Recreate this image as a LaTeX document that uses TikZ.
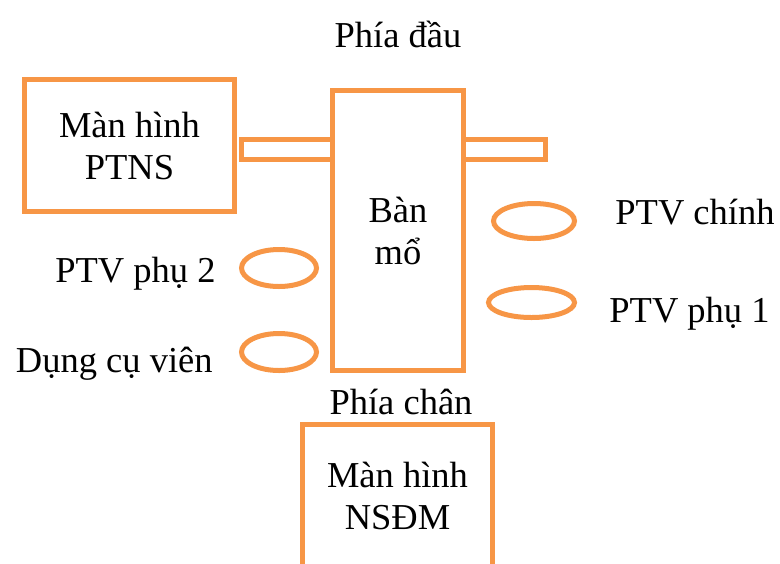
\documentclass[tikz,border=0pt]{standalone}
\usepackage{fontspec}
\setmainfont{Liberation Serif}
\usetikzlibrary{shapes.geometric,positioning}
\definecolor{planorange}{RGB}{247,150,70}
\newcommand{\planfont}{\fontsize{18.25}{21}\selectfont}
\tikzset{
  planbox/.style={rectangle,draw=planorange,line width=2.5pt,inner sep=0pt,
    align=center,font=\planfont},
  armbox/.style={rectangle,draw=planorange,line width=2.5pt,inner sep=0pt,
    minimum height=10pt},
  seat/.style={ellipse,draw=planorange,line width=2.5pt,inner sep=0pt},
  planlabel/.style={font=\planfont,inner sep=0pt}
}

\begin{document}
\begin{tikzpicture}[x=0.5pt,y=-0.5pt]
  \useasboundingbox (0,0) rectangle (780,563);
  % ban mo va hai tay doi
  \node[planbox,minimum width=65.5pt,minimum height=140pt] (table) at (398,230.5) {Bàn\\mổ};
  \node[armbox,minimum width=45.5pt] (leftarm) at (287,149.5) {};
  \node[armbox,minimum width=41pt] (rightarm) at (504.5,149.5) {};
  % man hinh
  \node[planbox,minimum width=105pt,minimum height=66pt] (ptns) at (129.5,145.5) {Màn hình\\PTNS};
  \node[planbox,minimum width=95pt,minimum height=71.5pt] (nsdm) at (397.5,496) {Màn hình\\NSĐM};
  % vi tri nguoi
  \node[seat,minimum width=40.5pt,minimum height=17.5pt] (chinh) at (534,221) {};
  \node[seat,minimum width=43pt,minimum height=15pt] (phu1) at (531.5,302.5) {};
  \node[seat,minimum width=37.5pt,minimum height=18.5pt] (phu2) at (279,268) {};
  \node[seat,minimum width=37.5pt,minimum height=18.5pt] (dungcu) at (279,352) {};
  % nhan
  \node[planlabel,anchor=base] (dau) at (398,47) {Phía đầu};
  \node[planlabel,anchor=base] (chan) at (401,414) {Phía chân};
  \node[planlabel,anchor=base west] (lchinh) at (615,224) {PTV chính};
  \node[planlabel,anchor=base west] (lphu1) at (609,322) {PTV phụ 1};
  \node[planlabel,anchor=base east] (lphu2) at (216,282) {PTV phụ 2};
  \node[planlabel,anchor=base east] (ldungcu) at (213,372) {Dụng cụ viên};
\end{tikzpicture}
\end{document}
